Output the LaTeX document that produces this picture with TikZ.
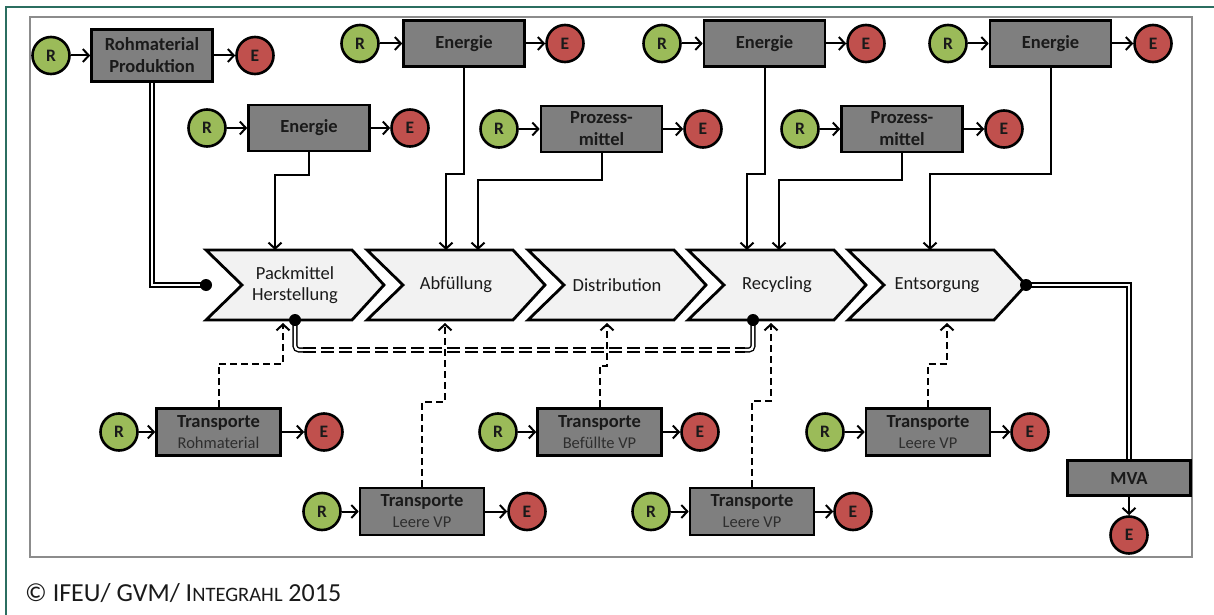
\documentclass[tikz,border=0pt]{standalone}
\usepackage{fontspec}
\setmainfont{Carlito}
\usetikzlibrary{arrows.meta,backgrounds}

\definecolor{frameteal}{HTML}{2B6E60}
\definecolor{panelgray}{HTML}{8C8C8C}
\definecolor{boxgray}{HTML}{7F7F7F}
\definecolor{stagefill}{HTML}{F2F2F2}
\definecolor{resgreen}{HTML}{9BBB59}
\definecolor{emired}{HTML}{C0504D}
\definecolor{inktext}{HTML}{1A1A1A}
\definecolor{subtext}{HTML}{2E2E2E}

\tikzset{
  procbox/.style={draw=black, line width=2.6pt, fill=boxgray, inner sep=0pt,
    minimum width=121pt, minimum height=46pt, align=center, text=inktext,
    font=\fontsize{18.5}{22}\selectfont\bfseries},
  transbox/.style={procbox, minimum width=124pt, minimum height=47pt,
    font=\fontsize{18.5}{21}\selectfont},
  rnode/.style={circle, draw=black, line width=2.6pt, fill=resgreen,
    minimum size=37pt, inner sep=0pt, text=inktext,
    font=\fontsize{17.5}{17.5}\selectfont\bfseries},
  enode/.style={rnode, fill=emired},
  stage/.style={minimum width=178pt, minimum height=70pt, inner sep=0pt,
    outer sep=0pt, align=center, text=inktext, font=\fontsize{18.5}{21}\selectfont},
  stageshape/.style={draw=black, line width=2.8pt, fill=stagefill, line join=miter},
  feed/.style={line width=2pt, -{Straight Barb[length=6pt,width=13pt]}},
  flow/.style={line width=2pt, -{Straight Barb[length=6pt,width=13pt]}},
  transflow/.style={line width=2pt, dash pattern=on 7pt off 4pt,
    -{Straight Barb[length=6pt,width=13pt]}, shorten >=3pt},
  dbl/.style={line width=1.4pt, double=white, double distance=2.4pt},
  joint/.style={circle, fill=black, minimum size=12pt, inner sep=0pt},
}

\newcommand{\transtext}[1]{\textbf{Transporte}\\{\fontsize{16.5}{16.5}\selectfont\color{subtext}#1}}

\begin{document}
\begin{tikzpicture}[x=1pt,y=-1pt]
\useasboundingbox (0,0) rectangle (1214,615);

% frames
\draw[frameteal, line width=2pt] (6,615) -- (6,7) -- (1214,7);
\draw[panelgray, line width=1.8pt] (30,17) rectangle (1192,557);

% life-cycle stages
\node[stage] (c1) at (295,285) {Packmittel\\Herstellung};
\node[stage] (c2) at (456,285) {Abfüllung};
\node[stage] (c3) at (617,285) {Distribution};
\node[stage] (c4) at (777,285) {Recycling};
\node[stage] (c5) at (937,285) {Entsorgung};
\begin{scope}[on background layer]
  \foreach \c in {c1,c2,c3,c4,c5}{
    \draw[stageshape] (\c.north west) -- ([xshift=-32pt]\c.north east) -- (\c.east)
      -- ([xshift=-32pt]\c.south east) -- (\c.south west) -- ([xshift=36pt]\c.west) -- cycle;
  }
\end{scope}

% upstream processes
\node[procbox, minimum height=52pt] (rm) at (152,55.5) {Rohmaterial\\Produktion};
\node[rnode] (rmR) at (51,55.5) {R};
\node[enode] (rmE) at (255,55.5) {E};

\node[procbox] (en1) at (464,43.5) {Energie};
\node[rnode] (en1R) at (360,43.5) {R};
\node[enode] (en1E) at (565,43.5) {E};

\node[procbox] (en2) at (764.5,43.5) {Energie};
\node[rnode] (en2R) at (662,43.5) {R};
\node[enode] (en2E) at (866,43.5) {E};

\node[procbox] (en3) at (1050.5,43.5) {Energie};
\node[rnode] (en3R) at (948,43.5) {R};
\node[enode] (en3E) at (1153,43.5) {E};

\node[procbox] (en0) at (309,128) {Energie};
\node[rnode] (en0R) at (207,128) {R};
\node[enode] (en0E) at (410,128) {E};

\node[procbox] (pm1) at (601.5,129) {Prozess-\\mittel};
\node[rnode] (pm1R) at (499,129) {R};
\node[enode] (pm1E) at (703,129) {E};

\node[procbox] (pm2) at (902,129) {Prozess-\\mittel};
\node[rnode] (pm2R) at (800,129) {R};
\node[enode] (pm2E) at (1004,129) {E};

% transports
\node[transbox] (tr1) at (218.5,432) {\transtext{Rohmaterial}};
\node[rnode] (tr1R) at (119,432) {R};
\node[enode] (tr1E) at (324,432) {E};

\node[transbox] (tb) at (599.5,432) {\transtext{Befüllte VP}};
\node[rnode] (tbR) at (498,432) {R};
\node[enode] (tbE) at (700,432) {E};

\node[transbox] (tl3) at (928,432) {\transtext{Leere VP}};
\node[rnode] (tl3R) at (825,432) {R};
\node[enode] (tl3E) at (1030,432) {E};

\node[transbox] (tl1) at (422,511.5) {\transtext{Leere VP}};
\node[rnode] (tl1R) at (322,511.5) {R};
\node[enode] (tl1E) at (527,511.5) {E};

\node[transbox] (tl2) at (752,511.5) {\transtext{Leere VP}};
\node[rnode] (tl2R) at (651,511.5) {R};
\node[enode] (tl2E) at (853,511.5) {E};

% incineration
\node[procbox, minimum width=123pt, minimum height=35pt] (mva) at (1129,478) {MVA};
\node[enode] (mvaE) at (1129,535) {E};

% resource and emission arrows
\foreach \p in {rm,en1,en2,en3,en0,pm1,pm2,tr1,tb,tl3,tl1,tl2}{
  \draw[feed] (\p R) -- (\p);
  \draw[feed] (\p) -- (\p E);
}
\draw[feed] (mva) -- (mvaE);

% energy and process media into stages
\draw[flow] (en0.south) -- ++(0,23) -| ([xshift=-20pt]c1.north);
\draw[flow] (en1.south) -- ++(0,106.5) -| ([xshift=-10pt]c2.north);
\draw[flow] (pm1.south) -- ++(0,27) -| ([xshift=22pt]c2.north);
\draw[flow] (en2.south) -- ++(0,106.5) -| ([xshift=-30pt]c4.north);
\draw[flow] (pm2.south) -- ++(0,27) -| ([xshift=2pt]c4.north);
\draw[flow] (en3.south) -- ++(0,106.5) -| ([xshift=-7pt]c5.north);

% material links
\node[joint] (j1) at (c1.west) {};
\node[joint] (j5) at (c5.east) {};
\node[joint] (j2) at (c1.south) {};
\node[joint] (j3) at ([xshift=-24pt]c4.south) {};
\begin{scope}[on background layer]
  \draw[dbl] (rm.south) |- (j1.center);
  \draw[dbl] (j5.center) -| (mva.north);
  \draw[dbl, rounded corners=4pt] (j2.center) |- ++(8,30) coordinate (kA);
  \draw[dbl, rounded corners=4pt] (j3.center) |- ++(-8,30) coordinate (kB);
  \draw[dbl, dash pattern=on 13pt off 5pt] (kA) -- (kB);
\end{scope}

% transports into stages
\draw[transflow] (tr1.north) -- ++(0,-43.5) -| ([xshift=-12pt]c1.south);
\draw[transflow] (tl1.north) -- ++(0,-85) -| ([xshift=-11pt]c2.south);
\draw[transflow] (tb.north) -- ++(0,-41.5) -| ([xshift=-10pt]c3.south);
\draw[transflow] (tl2.north) -- ++(0,-86) -| ([xshift=-6pt]c4.south);
\draw[transflow] (tl3.north) -- ++(0,-43.5) -| ([xshift=10pt]c5.south);

% credit line
\node[anchor=west, inner sep=0pt, text=inktext, font=\fontsize{26}{26}\selectfont] (credit) at (25,593)
  {© IFEU/ GVM/ I{\fontsize{20.5}{20.5}\selectfont NTEGRAHL} 2015};
\end{tikzpicture}
\end{document}
